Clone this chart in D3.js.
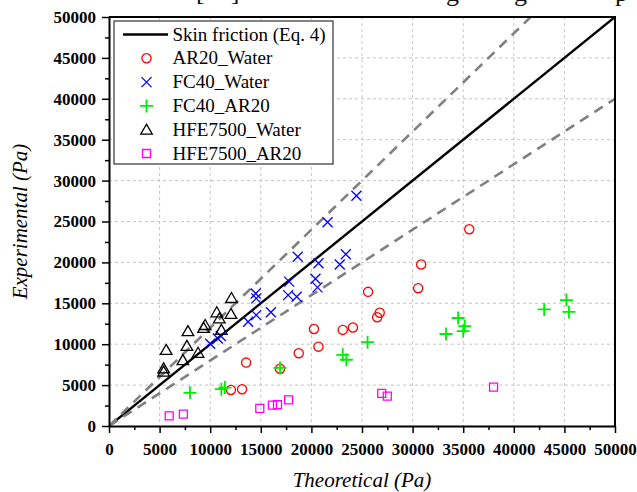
<!DOCTYPE html>
<html>
<head>
<meta charset="utf-8">
<script src="https://cdn.jsdelivr.net/npm/d3@7"></script>
<style>
	body { margin: 0; background: #fff; }
	svg { display: block; font-family: 'Liberation Serif', 'Times New Roman', serif; }
	.grid line { stroke: #c4c4c4; stroke-width: 1; stroke-dasharray: 3,3; }
	.axis path, .axis line { stroke: #000; }
</style>
</head>
<body>
<div id="chart"></div>
<script>
// Tick labels (both axes share them)
const tickValues = [0, 5000, 10000, 15000, 20000, 25000, 30000, 35000, 40000, 45000, 50000];
const minorTicks = [2500, 7500, 12500, 17500, 22500, 27500, 32500, 37500, 42500, 47500];

// [theoretical, experimental] in Pa
const ar20Water = [
	[12050, 4400], [13150, 4500], [13550, 7750], [16900, 7000], [18750, 8900],
	[20700, 9700], [20250, 11850], [23100, 11750], [24100, 12050], [25600, 16400],
	[26500, 13300], [26750, 13850], [30550, 16850], [30850, 19750], [35600, 24050],
];
const fc40Water = [
	[10000, 10050], [10750, 10700], [11050, 11000], [13750, 12750], [14550, 13550],
	[16000, 13900], [14500, 16200], [14550, 15600], [17700, 16000], [18550, 15800],
	[17800, 17650], [18650, 20700], [20400, 18000], [20600, 16950], [20700, 19900],
	[21600, 24900], [22800, 19750], [23400, 21000], [24450, 28150],
];
const fc40Ar20 = [
	[8000, 4050], [11100, 4500], [11450, 4700], [16900, 7100], [23100, 8700],
	[23450, 8100], [25550, 10250], [33300, 11250], [34500, 13200], [35150, 12200],
	[35000, 11600], [43000, 14250], [45200, 15400], [45450, 13950],
];
const hfe7500Water = [
	[5400, 7050], [5400, 6650], [5650, 9300], [7300, 8050], [7700, 9800],
	[7800, 11600], [8800, 8950], [9350, 12000], [9500, 12350], [10650, 13900],
	[10900, 13150], [11100, 11750], [12050, 13700], [12100, 15650],
];
const hfe7500Ar20 = [
	[5950, 1250], [7350, 1450], [14900, 2150], [16150, 2550], [16650, 2600],
	[17750, 3200], [26950, 4000], [27500, 3650], [38000, 4750],
];

// Reference lines: Eq. 4 and its +/-20 % band
const refSlopes = [1, 1.2, 0.8];
const refLabel = 'Skin friction (Eq. 4)';

const series = [
	{ name: 'AR20_Water', data: ar20Water, shape: 'circle', color: '#ff0000' },
	{ name: 'FC40_Water', data: fc40Water, shape: 'times', color: '#0000ff' },
	{ name: 'FC40_AR20', data: fc40Ar20, shape: 'plus', color: '#00ee00' },
	{ name: 'HFE7500_Water', data: hfe7500Water, shape: 'triangle', color: '#000000' },
	{ name: 'HFE7500_AR20', data: hfe7500Ar20, shape: 'square', color: '#ff00ff' },
];

const width = 637;
const height = 492;
const plot = { left: 109, right: 615, top: 17, bottom: 426 };

const x = d3.scaleLinear().domain([0, 50000]).range([plot.left, plot.right]);
const y = d3.scaleLinear().domain([0, 50000]).range([plot.bottom, plot.top]);

const markerPath = (shape) => {
	switch (shape) {
		case 'circle':
			return d3.symbol(d3.symbolCircle, Math.PI * 4.6 * 4.6)();
		case 'times':
			return 'M-5,-5L5,5M-5,5L5,-5';
		case 'plus':
			return 'M-6.5,0H6.5M0,-6.5V6.5';
		case 'triangle':
			return 'M0,-5.5L5.8,4.5H-5.8Z';
		default:
			return 'M-4,-4H4V4H-4Z';
	}
};

const svg = d3.select('#chart').append('svg').attr('width', width).attr('height', height);

// cropped caption line from the page above the figure
const caption = svg.append('g').attr('font-size', 26).attr('fill', '#111');
caption.append('text').attr('x', 196).attr('y', 0).text('[30]');
caption.append('text').attr('x', 446).attr('y', 1).text('g');
caption.append('text').attr('x', 514).attr('y', 1).text('g');
caption.append('text').attr('x', 615).attr('y', 1).text('p');

// grid
const grid = svg.append('g').attr('class', 'grid');
grid.selectAll('.gx')
	.data(tickValues.slice(1, -1))
	.enter()
	.append('line')
	.attr('x1', (d) => x(d))
	.attr('x2', (d) => x(d))
	.attr('y1', plot.top)
	.attr('y2', plot.bottom);
grid.selectAll('.gy')
	.data(tickValues.slice(1, -1))
	.enter()
	.append('line')
	.attr('x1', plot.left)
	.attr('x2', plot.right)
	.attr('y1', (d) => y(d))
	.attr('y2', (d) => y(d));

// clip for reference lines
svg.append('clipPath').attr('id', 'clip')
	.append('rect')
	.attr('x', plot.left).attr('y', plot.top)
	.attr('width', plot.right - plot.left).attr('height', plot.bottom - plot.top);

const refLine = (slope) => d3.line()
	.x((d) => x(d))
	.y((d) => y(d * slope))([0, 50000]);

svg.append('g').attr('clip-path', 'url(#clip)')
	.selectAll('path')
	.data(refSlopes)
	.enter()
	.append('path')
	.attr('d', (d) => refLine(d))
	.attr('fill', 'none')
	.attr('stroke', (d) => (d === 1 ? '#000' : '#808080'))
	.attr('stroke-width', (d) => (d === 1 ? 2.4 : 2.6))
	.attr('stroke-dasharray', (d) => (d === 1 ? null : '10,7'));

// data points
series.forEach((s) => {
	svg.append('g')
		.selectAll('path')
		.data(s.data)
		.enter()
		.append('path')
		.attr('transform', (d) => `translate(${x(d[0])},${y(d[1])})`)
		.attr('d', markerPath(s.shape))
		.attr('fill', 'none')
		.attr('stroke', s.color)
		.attr('stroke-width', s.shape === 'plus' ? 1.8 : 1.3);
});

// axes
const styleAxis = (g) => {
	g.attr('font-family', "'Liberation Serif', 'Times New Roman', serif")
		.attr('font-size', 17)
		.attr('font-weight', 'bold');
	g.selectAll('.tick text').attr('fill', '#000');
	g.selectAll('.tick line').attr('stroke-width', 1.5);
	g.select('.domain').attr('stroke-width', 2);
};

const addAxes = () => {
	svg.append('g').attr('class', 'axis')
		.attr('transform', `translate(0,${plot.bottom})`)
		.call(d3.axisBottom(x).tickValues(minorTicks).tickSize(4).tickFormat('').tickSizeOuter(0))
		.call((g) => g.select('.domain').remove())
		.call((g) => g.selectAll('.tick line').attr('stroke-width', 1.5));
	svg.append('g').attr('class', 'axis')
		.attr('transform', `translate(${plot.left},0)`)
		.call(d3.axisLeft(y).tickValues(minorTicks).tickSize(4).tickFormat('').tickSizeOuter(0))
		.call((g) => g.select('.domain').remove())
		.call((g) => g.selectAll('.tick line').attr('stroke-width', 1.5));

	svg.append('g').attr('class', 'axis')
		.attr('transform', `translate(0,${plot.bottom})`)
		.call(d3.axisBottom(x).tickValues(tickValues).tickFormat(d3.format('d')).tickSize(7).tickPadding(10).tickSizeOuter(0))
		.call(styleAxis);

	svg.append('g').attr('class', 'axis')
		.attr('transform', `translate(${plot.left},0)`)
		.call(d3.axisLeft(y).tickValues(tickValues).tickFormat(d3.format('d')).tickSize(7).tickPadding(6).tickSizeOuter(0))
		.call(styleAxis);

	// top and right frame
	svg.append('path')
		.attr('d', d3.line()([[plot.left, plot.top], [plot.right, plot.top], [plot.right, plot.bottom]]))
		.attr('fill', 'none')
		.attr('stroke', '#000')
		.attr('stroke-width', 2);
};
addAxes();

// axis titles
svg.append('text')
	.attr('x', (plot.left + plot.right) / 2)
	.attr('y', 487)
	.attr('text-anchor', 'middle')
	.attr('font-size', 21)
	.attr('font-style', 'italic')
	.text('Theoretical (Pa)');
svg.append('text')
	.attr('transform', `translate(27,${(plot.top + plot.bottom) / 2}) rotate(-90)`)
	.attr('text-anchor', 'middle')
	.attr('font-size', 21)
	.attr('font-style', 'italic')
	.text('Experimental (Pa)');

// legend
const legend = svg.append('g').attr('transform', 'translate(114,21)');
legend.append('rect')
	.attr('width', 219)
	.attr('height', 143)
	.attr('fill', '#fff')
	.attr('stroke', '#333')
	.attr('stroke-width', 1.2);

const rowY = (i) => 13.5 + i * 23.8;

legend.append('line')
	.attr('x1', 9).attr('x2', 54)
	.attr('y1', rowY(0)).attr('y2', rowY(0))
	.attr('stroke', '#000').attr('stroke-width', 2.4);

const legendItems = [{ name: refLabel }].concat(series);
legend.selectAll('text')
	.data(legendItems)
	.enter()
	.append('text')
	.attr('x', 58.5)
	.attr('y', (d, i) => rowY(i) + 6)
	.attr('font-size', 19)
	.text((d) => d.name);

legend.selectAll('.sym')
	.data(series)
	.enter()
	.append('path')
	.attr('transform', (d, i) => `translate(32.5,${rowY(i + 1)})`)
	.attr('d', (d) => markerPath(d.shape))
	.attr('fill', 'none')
	.attr('stroke', (d) => d.color)
	.attr('stroke-width', (d) => (d.shape === 'plus' ? 1.8 : 1.3));
</script>
</body>
</html>
